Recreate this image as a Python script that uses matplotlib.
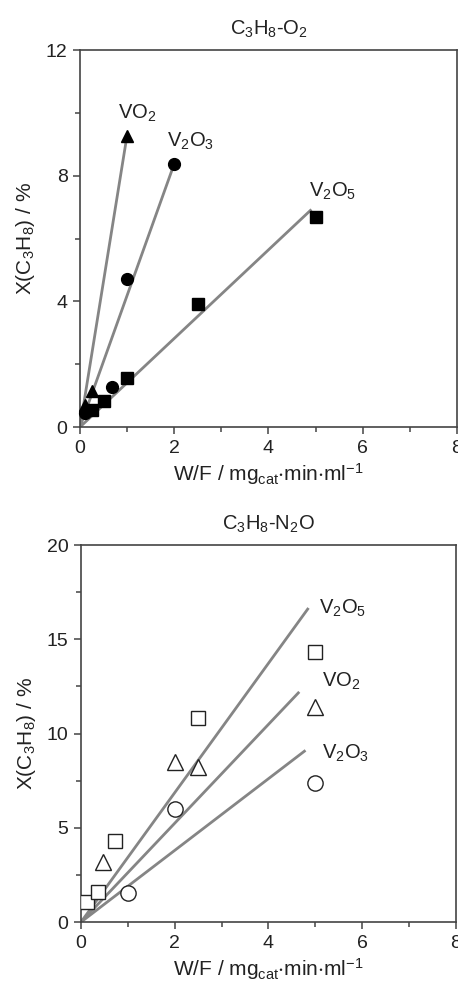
import numpy as np
import matplotlib
matplotlib.use("Agg")
import matplotlib.pyplot as plt
from matplotlib.ticker import MultipleLocator

plt.rcParams["font.family"] = ["Liberation Sans", "DejaVu Sans"]
plt.rcParams["mathtext.default"] = "regular"

# C3H8-O2 (filled markers)
o2_v2o5_x = [0.25, 0.5, 1.0, 2.5, 5.0]
o2_v2o5_y = [0.55, 0.83, 1.55, 3.92, 6.7]
o2_v2o3_x = [0.1, 0.67, 1.0, 2.0]
o2_v2o3_y = [0.45, 1.28, 4.71, 8.38]
o2_vo2_x = [0.1, 0.25, 1.0]
o2_vo2_y = [0.7, 1.15, 9.25]
# linear fits (slope, end of line)
o2_slopes = {"V2O5": 1.41, "V2O3": 4.19, "VO2": 9.3}
o2_xend = {"V2O5": 4.89, "V2O3": 1.99, "VO2": 0.97}

# C3H8-N2O (open markers)
n2o_v2o5_x = [0.12, 0.37, 0.72, 2.5, 5.0]
n2o_v2o5_y = [1.08, 1.6, 4.3, 10.8, 14.3]
n2o_vo2_x = [0.47, 2.0, 2.5, 5.0]
n2o_vo2_y = [3.2, 8.5, 8.2, 11.4]
n2o_v2o3_x = [1.0, 2.0, 5.0]
n2o_v2o3_y = [1.55, 6.0, 7.4]
n2o_slopes = {"V2O5": 3.43, "VO2": 2.62, "V2O3": 1.9}
n2o_xend = {"V2O5": 4.84, "VO2": 4.64, "V2O3": 4.77}

line_col = "#858585"
spine_col = "#444444"
xlab = r"W/F / mg$_{cat}$$\cdot$min$\cdot$ml$^{-1}$"
ylab = r"X(C$_3$H$_8$) / %"

fig = plt.figure(figsize=(4.58, 9.81), dpi=100)
ax1 = fig.add_axes([0.1747, 0.5647, 0.823, 0.3843])
ax2 = fig.add_axes([0.1769, 0.0601, 0.818, 0.3843])


def style(ax):
    for s in ax.spines.values():
        s.set_color(spine_col)
        s.set_linewidth(1.2)
    ax.tick_params(which="both", direction="out", colors=spine_col,
                   labelcolor="#222222", labelsize=14, top=False, right=False)
    ax.tick_params(which="major", length=5, width=1.1, pad=4)
    ax.tick_params(which="minor", length=3.5, width=1.1)
    ax.set_xlim(0, 8)
    ax.xaxis.set_major_locator(MultipleLocator(2))
    ax.xaxis.set_minor_locator(MultipleLocator(1))
    ax.set_xlabel(xlab, fontsize=15, color="#222222", labelpad=3)
    ax.set_ylabel(ylab, fontsize=15, color="#222222", labelpad=6)


# top panel
for k in ["V2O5", "V2O3", "VO2"]:
    xx = np.array([0, o2_xend[k]])
    ax1.plot(xx, o2_slopes[k] * xx, color=line_col, lw=2.0, zorder=2)
ax1.plot(o2_v2o5_x, o2_v2o5_y, "s", color="black", ms=9, zorder=3, clip_on=False)
ax1.plot(o2_v2o3_x, o2_v2o3_y, "o", color="black", ms=8.5, zorder=3, clip_on=False)
ax1.plot(o2_vo2_x, o2_vo2_y, "^", color="black", ms=9, zorder=3, clip_on=False)
ax1.set_ylim(0, 12)
ax1.yaxis.set_major_locator(MultipleLocator(4))
ax1.yaxis.set_minor_locator(MultipleLocator(2))
ax1.set_title(r"C$_3$H$_8$-O$_2$", fontsize=14.5, color="#222222", pad=11)
ax1.text(0.81, 10.0, r"VO$_2$", fontsize=14.5, va="center", color="#222222")
ax1.text(1.84, 9.08, r"V$_2$O$_3$", fontsize=14.5, va="center", color="#222222")
ax1.text(4.85, 7.5, r"V$_2$O$_5$", fontsize=14.5, va="center", color="#222222")
style(ax1)

# bottom panel
for k in ["V2O5", "VO2", "V2O3"]:
    xx = np.array([0, n2o_xend[k]])
    ax2.plot(xx, n2o_slopes[k] * xx, color=line_col, lw=2.0, zorder=2)
mk = dict(mfc="white", mec="#222222", mew=1.0, ls="none", zorder=3)
ax2.plot(n2o_v2o5_x, n2o_v2o5_y, "s", ms=10, **mk)
ax2.plot(n2o_vo2_x, n2o_vo2_y, "^", ms=11, **mk)
ax2.plot(n2o_v2o3_x, n2o_v2o3_y, "o", ms=11, **mk)
ax2.set_ylim(0, 20)
ax2.yaxis.set_major_locator(MultipleLocator(5))
ax2.yaxis.set_minor_locator(MultipleLocator(2.5))
ax2.set_title(r"C$_3$H$_8$-N$_2$O", fontsize=14.5, color="#222222", pad=11)
ax2.text(5.08, 16.65, r"V$_2$O$_5$", fontsize=14.5, va="center", color="#222222")
ax2.text(5.15, 12.75, r"VO$_2$", fontsize=14.5, va="center", color="#222222")
ax2.text(5.15, 8.97, r"V$_2$O$_3$", fontsize=14.5, va="center", color="#222222")
style(ax2)

fig.savefig("out.png", dpi=100)
